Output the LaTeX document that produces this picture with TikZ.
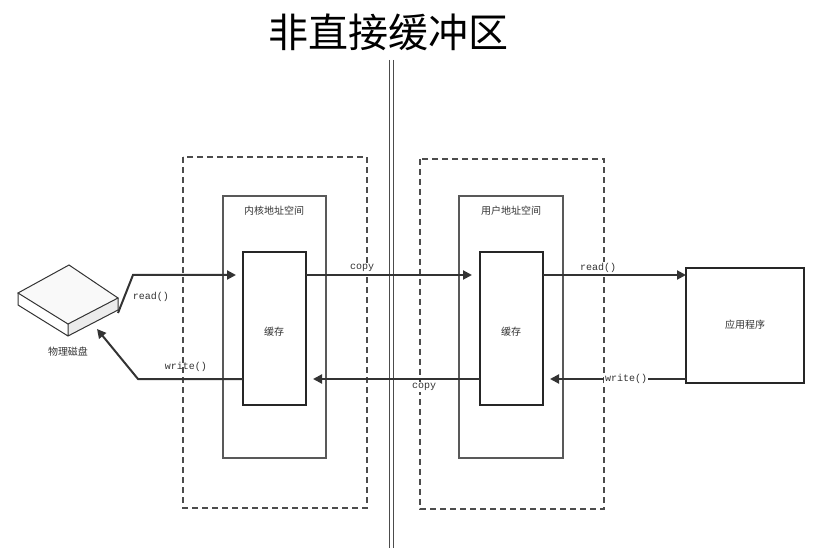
\documentclass[tikz,border=0pt]{standalone}
\usepackage{fontspec}
\newfontfamily\cjk{Noto Sans CJK SC}
\newfontfamily\mono{Liberation Mono}
\usetikzlibrary{shapes.geometric,arrows.meta}
\begin{document}
\begin{tikzpicture}[x=1pt,y=-1pt,
  dashbox/.style={draw=black!70,line width=1.6pt,dash pattern=on 6pt off 4pt},
  inner/.style={draw=black!65,line width=1.2pt},
  conn/.style={draw=black!80,line width=2pt,-{Triangle[length=9pt,width=9pt]}},
  lbl/.style={font=\cjk\fontsize{10}{12}\selectfont,text=black!80},
  code/.style={font=\mono\fontsize{10}{12}\selectfont,text=black!80,fill=white,inner sep=1pt},
  cyl/.style={cylinder,shape border rotate=90,draw=black!85,line width=2pt,fill=white,
     minimum width=63pt,minimum height=152pt,aspect=0.25,inner sep=0pt}]
\useasboundingbox (0,0) rectangle (828,548);
\node[font=\cjk\fontsize{40}{44}\selectfont] (title) at (388,32) {非直接缓冲区};
\draw[black!70,line width=0.8pt] (389,60) -- (389,548) (393,60) -- (393,548);
% boxes
\draw[dashbox] (183,157) rectangle (367,508);
\draw[dashbox] (420,159) rectangle (604,509);
\node[inner,minimum width=103pt,minimum height=262pt,inner sep=0pt] (kbox) at (274.5,327) {};
\node[inner,minimum width=104pt,minimum height=262pt,inner sep=0pt] (ubox) at (511,327) {};
\node[lbl] (klbl) at (274,211) {内核地址空间};
\node[lbl] (ulbl) at (511,211) {用户地址空间};
\node[cyl] (kc) at (274.5,329) {};
\node[cyl] (uc) at (511.5,329) {};
\node[lbl] (kct) at (274,332) {缓存};
\node[lbl] (uct) at (511,332) {缓存};
\node[draw=black!85,line width=2.4pt,minimum width=118pt,minimum height=115pt,inner sep=0pt] (app) at (745,325.5) {};
\node[lbl] (appl) at (745,325) {应用程序};
% disk
\fill[gray!15] (118,298) -- (118,310) -- (68,336) -- (68,324) -- cycle;
\draw[black!80,line width=1pt,fill=gray!5] (18,293) -- (69,265) -- (118,298) -- (68,324) -- cycle;
\draw[black!80,line width=1pt] (18,293) -- (18,305) -- (68,336) -- (118,310) -- (118,298) (68,324) -- (68,336);
\node[lbl] (disk) at (68,352) {物理磁盘};
\coordinate (d1) at (118,313);
\coordinate (d2) at (97,329);
% connectors
\draw[conn] (d1) -- (133,275) -- (236,275);
\draw[conn] (243,379) -- (138,379) -- (d2);
\draw[conn] (306,275) -- (472,275);
\draw[conn] (480,379) -- (313,379);
\draw[conn] (543,275) -- (686,275);
\draw[conn] (686,379) -- (550,379);
\node[code,fill=none] (r1) at (151,297) {read()};
\node[code,fill=none] (w1) at (186,367) {write()};
\node[code] (c1) at (362,268) {copy};
\node[code] (c2) at (424,387) {copy};
\node[code] (r2) at (598,268) {read()};
\node[code] (w2) at (626,379) {write()};
\end{tikzpicture}
\end{document}
